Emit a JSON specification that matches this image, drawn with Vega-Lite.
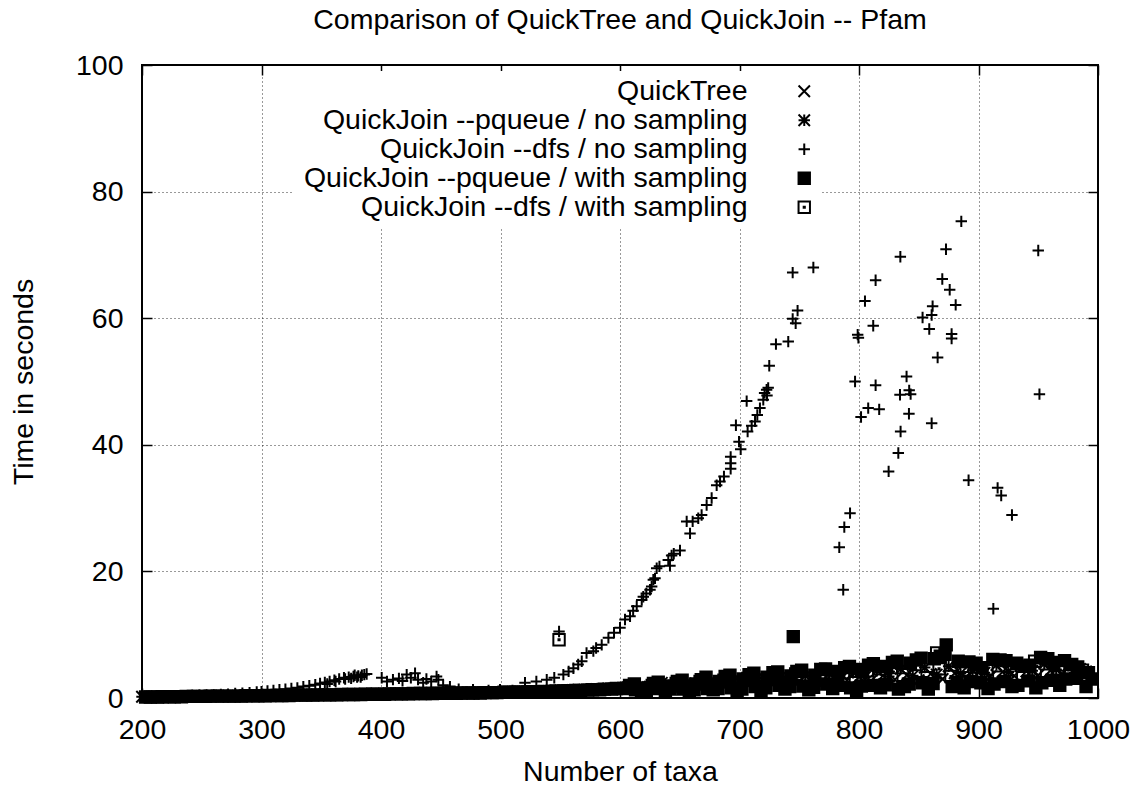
{
"$schema":"https://vega.github.io/schema/vega-lite/v6.json",
"width":956,"height":633,
"autosize":{"type":"none"},
"padding":{"left":142,"top":65,"right":47,"bottom":89},
"title":{"text":"Comparison of QuickTree and QuickJoin -- Pfam","anchor":"middle","frame":"group","baseline":"alphabetic","offset":-6,"font":"Liberation Sans","fontSize":28.5,"fontWeight":"normal","color":"black"},
"data":{"values":[
{"k":"a","x":200,"y":0.2},{"k":"a","x":210,"y":0.2},{"k":"a","x":220,"y":0.2},{"k":"a","x":230,"y":0.25},{"k":"a","x":240,"y":0.25},{"k":"a","x":250,"y":0.3},{"k":"a","x":260,"y":0.3},{"k":"a","x":270,"y":0.3},{"k":"a","x":280,"y":0.35},{"k":"a","x":290,"y":0.35},{"k":"a","x":300,"y":0.4},{"k":"a","x":310,"y":0.4},{"k":"a","x":320,"y":0.45},{"k":"a","x":330,"y":0.45},{"k":"a","x":340,"y":0.5},{"k":"a","x":350,"y":0.5},{"k":"a","x":360,"y":0.55},{"k":"a","x":370,"y":0.55},{"k":"a","x":380,"y":0.6},{"k":"a","x":390,"y":0.6},{"k":"a","x":400,"y":0.65},{"k":"a","x":410,"y":0.65},{"k":"a","x":420,"y":0.7},{"k":"a","x":430,"y":0.7},{"k":"a","x":440,"y":0.75},{"k":"a","x":450,"y":0.75},{"k":"a","x":460,"y":0.8},{"k":"a","x":470,"y":0.8},{"k":"a","x":480,"y":0.85},{"k":"a","x":490,"y":0.85},{"k":"a","x":500,"y":0.9},{"k":"a","x":510,"y":0.95},{"k":"a","x":520,"y":1.0},{"k":"a","x":530,"y":1.05},{"k":"a","x":540,"y":1.1},{"k":"a","x":550,"y":1.2},{"k":"a","x":560,"y":1.25},{"k":"a","x":570,"y":1.3},{"k":"a","x":580,"y":1.4},{"k":"a","x":590,"y":1.5},{"k":"a","x":600,"y":1.55},{"k":"a","x":610,"y":1.6},{"k":"a","x":620,"y":1.7},{"k":"a","x":630,"y":1.8},{"k":"a","x":640,"y":1.9},{"k":"a","x":650,"y":2.0},{"k":"a","x":660,"y":2.1},{"k":"a","x":670,"y":2.0},{"k":"a","x":680,"y":2.3},{"k":"a","x":690,"y":2.2},{"k":"a","x":700,"y":2.5},{"k":"a","x":710,"y":2.4},{"k":"a","x":720,"y":2.7},{"k":"a","x":730,"y":2.5},{"k":"a","x":740,"y":2.9},{"k":"a","x":750,"y":2.6},{"k":"a","x":760,"y":3.1},{"k":"a","x":770,"y":2.4},{"k":"a","x":780,"y":3.2},{"k":"a","x":790,"y":2.8},{"k":"a","x":800,"y":3.3},{"k":"a","x":810,"y":2.7},{"k":"a","x":820,"y":3.5},{"k":"a","x":830,"y":2.9},{"k":"a","x":840,"y":3.6},{"k":"a","x":850,"y":2.8},{"k":"a","x":860,"y":3.8},{"k":"a","x":870,"y":3.0},{"k":"a","x":880,"y":3.9},{"k":"a","x":890,"y":3.2},{"k":"a","x":900,"y":4.0},{"k":"a","x":910,"y":3.4},{"k":"a","x":920,"y":4.1},{"k":"a","x":930,"y":3.5},{"k":"a","x":940,"y":4.2},{"k":"a","x":950,"y":3.6},{"k":"a","x":960,"y":4.3},{"k":"a","x":970,"y":3.8},{"k":"a","x":980,"y":4.5},{"k":"a","x":990,"y":4.2},
{"k":"b","x":205,"y":0.2},{"k":"b","x":215,"y":0.2},{"k":"b","x":225,"y":0.25},{"k":"b","x":235,"y":0.25},{"k":"b","x":245,"y":0.3},{"k":"b","x":255,"y":0.3},{"k":"b","x":265,"y":0.3},{"k":"b","x":275,"y":0.35},{"k":"b","x":285,"y":0.35},{"k":"b","x":295,"y":0.4},{"k":"b","x":305,"y":0.4},{"k":"b","x":315,"y":0.45},{"k":"b","x":325,"y":0.45},{"k":"b","x":335,"y":0.5},{"k":"b","x":345,"y":0.5},{"k":"b","x":355,"y":0.55},{"k":"b","x":365,"y":0.55},{"k":"b","x":375,"y":0.6},{"k":"b","x":385,"y":0.6},{"k":"b","x":395,"y":0.65},{"k":"b","x":405,"y":0.65},{"k":"b","x":415,"y":0.7},{"k":"b","x":425,"y":0.7},{"k":"b","x":435,"y":0.75},{"k":"b","x":445,"y":0.75},{"k":"b","x":455,"y":0.8},{"k":"b","x":465,"y":0.8},{"k":"b","x":475,"y":0.85},{"k":"b","x":485,"y":0.9},{"k":"b","x":495,"y":0.9},{"k":"b","x":505,"y":0.95},{"k":"b","x":515,"y":1.0},{"k":"b","x":525,"y":1.05},{"k":"b","x":535,"y":1.1},{"k":"b","x":545,"y":1.15},{"k":"b","x":555,"y":1.2},{"k":"b","x":565,"y":1.3},{"k":"b","x":575,"y":1.35},{"k":"b","x":585,"y":1.45},{"k":"b","x":595,"y":1.5},{"k":"b","x":605,"y":1.6},{"k":"b","x":615,"y":1.7},{"k":"b","x":625,"y":1.8},{"k":"b","x":635,"y":2.4},{"k":"b","x":645,"y":1.9},{"k":"b","x":655,"y":2.3},{"k":"b","x":665,"y":2.1},{"k":"b","x":675,"y":2.6},{"k":"b","x":685,"y":2.3},{"k":"b","x":695,"y":2.9},{"k":"b","x":705,"y":2.6},{"k":"b","x":715,"y":3.2},{"k":"b","x":725,"y":2.7},{"k":"b","x":735,"y":3.4},{"k":"b","x":745,"y":2.9},{"k":"b","x":755,"y":3.5},{"k":"b","x":765,"y":3.0},{"k":"b","x":775,"y":3.8},{"k":"b","x":785,"y":3.1},{"k":"b","x":795,"y":4.0},{"k":"b","x":805,"y":3.3},{"k":"b","x":815,"y":4.3},{"k":"b","x":825,"y":3.4},{"k":"b","x":835,"y":4.6},{"k":"b","x":845,"y":3.5},{"k":"b","x":855,"y":4.8},{"k":"b","x":865,"y":3.7},{"k":"b","x":875,"y":5.0},{"k":"b","x":885,"y":3.9},{"k":"b","x":895,"y":4.4},{"k":"b","x":905,"y":4.0},{"k":"b","x":915,"y":5.2},{"k":"b","x":925,"y":4.1},{"k":"b","x":935,"y":5.0},{"k":"b","x":945,"y":4.3},{"k":"b","x":955,"y":5.4},{"k":"b","x":965,"y":4.5},{"k":"b","x":975,"y":5.1},{"k":"b","x":985,"y":4.6},
{"k":"d","x":203,"y":0.15},{"k":"d","x":213,"y":0.15},{"k":"d","x":223,"y":0.2},{"k":"d","x":233,"y":0.2},{"k":"d","x":243,"y":0.25},{"k":"d","x":253,"y":0.25},{"k":"d","x":263,"y":0.3},{"k":"d","x":273,"y":0.3},{"k":"d","x":283,"y":0.3},{"k":"d","x":293,"y":0.35},{"k":"d","x":303,"y":0.35},{"k":"d","x":313,"y":0.4},{"k":"d","x":323,"y":0.4},{"k":"d","x":333,"y":0.45},{"k":"d","x":343,"y":0.45},{"k":"d","x":353,"y":0.5},{"k":"d","x":363,"y":0.5},{"k":"d","x":373,"y":0.55},{"k":"d","x":383,"y":0.55},{"k":"d","x":393,"y":0.6},{"k":"d","x":403,"y":0.6},{"k":"d","x":413,"y":0.65},{"k":"d","x":423,"y":0.65},{"k":"d","x":433,"y":0.7},{"k":"d","x":443,"y":0.7},{"k":"d","x":453,"y":0.75},{"k":"d","x":463,"y":0.75},{"k":"d","x":473,"y":0.8},{"k":"d","x":483,"y":0.8},{"k":"d","x":493,"y":0.85},{"k":"d","x":503,"y":0.9},{"k":"d","x":513,"y":0.9},{"k":"d","x":523,"y":0.95},{"k":"d","x":533,"y":1.0},{"k":"d","x":543,"y":1.05},{"k":"d","x":553,"y":1.1},{"k":"d","x":563,"y":1.2},{"k":"d","x":573,"y":1.25},{"k":"d","x":583,"y":1.3},{"k":"d","x":593,"y":1.4},{"k":"d","x":603,"y":1.5},{"k":"d","x":613,"y":1.3},{"k":"d","x":623,"y":1.6},{"k":"d","x":633,"y":1.5},{"k":"d","x":643,"y":1.9},{"k":"d","x":653,"y":1.4},{"k":"d","x":663,"y":2.2},{"k":"d","x":673,"y":1.5},{"k":"d","x":683,"y":2.6},{"k":"d","x":693,"y":1.6},{"k":"d","x":703,"y":3.0},{"k":"d","x":713,"y":1.8},{"k":"d","x":723,"y":3.3},{"k":"d","x":733,"y":2.0},{"k":"d","x":743,"y":3.5},{"k":"d","x":745,"y":9.7},{"k":"d","x":753,"y":1.9},{"k":"d","x":763,"y":3.6},{"k":"d","x":773,"y":2.2},{"k":"d","x":783,"y":4.2},{"k":"d","x":793,"y":1.6},{"k":"d","x":803,"y":4.5},{"k":"d","x":813,"y":2.0},{"k":"d","x":823,"y":5.0},{"k":"d","x":833,"y":1.4},{"k":"d","x":843,"y":5.5},{"k":"d","x":853,"y":2.4},{"k":"d","x":863,"y":6.2},{"k":"d","x":873,"y":8.4},{"k":"d","x":878,"y":1.8},{"k":"d","x":883,"y":5.8},{"k":"d","x":893,"y":2.6},{"k":"d","x":903,"y":4.8},{"k":"d","x":913,"y":2.2},{"k":"d","x":923,"y":5.9},{"k":"d","x":933,"y":2.0},{"k":"d","x":943,"y":5.2},{"k":"d","x":953,"y":2.4},{"k":"d","x":963,"y":5.6},{"k":"d","x":973,"y":3.0},{"k":"d","x":983,"y":4.9},{"k":"d","x":990,"y":1.8},
{"k":"d","x":608,"y":2.0},{"k":"d","x":618,"y":1.1},{"k":"d","x":628,"y":2.3},{"k":"d","x":638,"y":1.2},{"k":"d","x":648,"y":2.6},{"k":"d","x":658,"y":1.0},{"k":"d","x":668,"y":2.9},{"k":"d","x":678,"y":1.3},{"k":"d","x":688,"y":3.4},{"k":"d","x":698,"y":1.2},{"k":"d","x":708,"y":3.7},{"k":"d","x":718,"y":1.1},{"k":"d","x":728,"y":4.0},{"k":"d","x":738,"y":1.4},{"k":"d","x":748,"y":4.2},{"k":"d","x":758,"y":1.3},{"k":"d","x":768,"y":4.5},{"k":"d","x":778,"y":1.5},{"k":"d","x":788,"y":4.8},{"k":"d","x":798,"y":1.2},{"k":"d","x":808,"y":5.2},{"k":"d","x":818,"y":1.6},{"k":"d","x":828,"y":5.6},{"k":"d","x":838,"y":1.8},{"k":"d","x":848,"y":6.0},{"k":"d","x":858,"y":1.4},{"k":"d","x":868,"y":6.6},{"k":"d","x":888,"y":1.6},{"k":"d","x":898,"y":5.5},{"k":"d","x":908,"y":1.5},{"k":"d","x":918,"y":6.0},{"k":"d","x":928,"y":1.8},{"k":"d","x":938,"y":5.0},{"k":"d","x":948,"y":1.6},{"k":"d","x":958,"y":6.2},{"k":"d","x":968,"y":2.0},{"k":"d","x":978,"y":5.3},{"k":"d","x":995,"y":3.0},
{"k":"d","x":612,"y":2.2},{"k":"d","x":622,"y":1.2},{"k":"d","x":632,"y":2.5},{"k":"d","x":642,"y":1.4},{"k":"d","x":652,"y":2.8},{"k":"d","x":662,"y":1.3},{"k":"d","x":672,"y":3.3},{"k":"d","x":682,"y":1.5},{"k":"d","x":692,"y":3.6},{"k":"d","x":702,"y":1.4},{"k":"d","x":712,"y":3.9},{"k":"d","x":722,"y":1.6},{"k":"d","x":732,"y":4.1},{"k":"d","x":742,"y":1.8},{"k":"d","x":752,"y":4.4},{"k":"d","x":762,"y":1.7},{"k":"d","x":772,"y":4.6},{"k":"d","x":782,"y":2.0},{"k":"d","x":792,"y":5.0},{"k":"d","x":802,"y":1.9},{"k":"d","x":812,"y":5.4},{"k":"d","x":822,"y":2.1},{"k":"d","x":832,"y":5.8},{"k":"d","x":842,"y":2.2},{"k":"d","x":852,"y":6.3},{"k":"d","x":862,"y":2.3},{"k":"d","x":872,"y":6.9},{"k":"d","x":882,"y":2.5},{"k":"d","x":892,"y":5.7},{"k":"d","x":902,"y":2.4},{"k":"d","x":912,"y":6.1},{"k":"d","x":922,"y":2.6},{"k":"d","x":932,"y":5.5},{"k":"d","x":942,"y":2.7},{"k":"d","x":952,"y":6.4},{"k":"d","x":962,"y":2.8},{"k":"d","x":972,"y":5.9},{"k":"d","x":982,"y":3.1},{"k":"d","x":992,"y":4.0},
{"k":"e","x":207,"y":0.15},{"k":"e","x":217,"y":0.2},{"k":"e","x":227,"y":0.2},{"k":"e","x":237,"y":0.25},{"k":"e","x":247,"y":0.25},{"k":"e","x":257,"y":0.3},{"k":"e","x":267,"y":0.3},{"k":"e","x":277,"y":0.3},{"k":"e","x":287,"y":0.35},{"k":"e","x":297,"y":0.35},{"k":"e","x":307,"y":0.4},{"k":"e","x":317,"y":0.4},{"k":"e","x":327,"y":0.45},{"k":"e","x":337,"y":0.45},{"k":"e","x":347,"y":0.5},{"k":"e","x":357,"y":0.5},{"k":"e","x":367,"y":0.55},{"k":"e","x":377,"y":0.55},{"k":"e","x":387,"y":0.6},{"k":"e","x":397,"y":0.6},{"k":"e","x":407,"y":0.65},{"k":"e","x":417,"y":0.65},{"k":"e","x":427,"y":0.7},{"k":"e","x":437,"y":0.7},{"k":"e","x":447,"y":0.75},{"k":"e","x":457,"y":0.75},{"k":"e","x":467,"y":0.8},{"k":"e","x":477,"y":0.8},{"k":"e","x":487,"y":0.85},{"k":"e","x":497,"y":0.85},{"k":"e","x":507,"y":0.9},{"k":"e","x":517,"y":0.95},{"k":"e","x":527,"y":1.0},{"k":"e","x":537,"y":1.05},{"k":"e","x":549,"y":9.2},{"k":"e","x":547,"y":1.1},{"k":"e","x":557,"y":1.15},{"k":"e","x":567,"y":1.2},{"k":"e","x":577,"y":1.3},{"k":"e","x":587,"y":1.4},{"k":"e","x":597,"y":1.5},{"k":"e","x":607,"y":1.6},{"k":"e","x":617,"y":1.4},{"k":"e","x":627,"y":2.0},{"k":"e","x":637,"y":1.7},{"k":"e","x":647,"y":2.3},{"k":"e","x":657,"y":1.8},{"k":"e","x":667,"y":2.6},{"k":"e","x":677,"y":2.0},{"k":"e","x":687,"y":2.8},{"k":"e","x":697,"y":2.1},{"k":"e","x":707,"y":3.1},{"k":"e","x":717,"y":2.3},{"k":"e","x":727,"y":3.2},{"k":"e","x":737,"y":2.2},{"k":"e","x":747,"y":3.8},{"k":"e","x":757,"y":2.5},{"k":"e","x":767,"y":3.4},{"k":"e","x":777,"y":2.6},{"k":"e","x":787,"y":4.0},{"k":"e","x":797,"y":2.4},{"k":"e","x":807,"y":4.3},{"k":"e","x":817,"y":2.8},{"k":"e","x":827,"y":4.8},{"k":"e","x":837,"y":3.0},{"k":"e","x":847,"y":5.3},{"k":"e","x":857,"y":3.2},{"k":"e","x":865,"y":7.1},{"k":"e","x":867,"y":4.6},{"k":"e","x":877,"y":3.4},{"k":"e","x":887,"y":5.0},{"k":"e","x":897,"y":3.1},{"k":"e","x":907,"y":4.6},{"k":"e","x":917,"y":3.3},{"k":"e","x":927,"y":5.4},{"k":"e","x":937,"y":3.2},{"k":"e","x":947,"y":5.8},{"k":"e","x":957,"y":3.6},{"k":"e","x":967,"y":5.2},{"k":"e","x":977,"y":3.9},{"k":"e","x":987,"y":4.4},
{"k":"c","x":200,"y":0.2},{"k":"c","x":206,"y":0.25},{"k":"c","x":212,"y":0.25},{"k":"c","x":218,"y":0.3},{"k":"c","x":224,"y":0.3},{"k":"c","x":230,"y":0.35},{"k":"c","x":236,"y":0.35},{"k":"c","x":242,"y":0.4},{"k":"c","x":248,"y":0.45},{"k":"c","x":254,"y":0.5},{"k":"c","x":260,"y":0.5},{"k":"c","x":266,"y":0.55},{"k":"c","x":272,"y":0.6},{"k":"c","x":278,"y":0.7},{"k":"c","x":284,"y":0.75},{"k":"c","x":290,"y":0.85},{"k":"c","x":296,"y":0.95},{"k":"c","x":300,"y":1.0},{"k":"c","x":305,"y":1.1},{"k":"c","x":310,"y":1.2},{"k":"c","x":315,"y":1.3},{"k":"c","x":320,"y":1.4},{"k":"c","x":325,"y":1.5},{"k":"c","x":330,"y":1.6},{"k":"c","x":335,"y":1.8},{"k":"c","x":340,"y":1.95},{"k":"c","x":345,"y":2.1},{"k":"c","x":349,"y":2.3},{"k":"c","x":353,"y":2.45},{"k":"c","x":357,"y":2.6},{"k":"c","x":361,"y":2.8},{"k":"c","x":365,"y":3.0},{"k":"c","x":369,"y":3.2},{"k":"c","x":373,"y":3.3},{"k":"c","x":377,"y":3.4},{"k":"c","x":381,"y":3.5},{"k":"c","x":384,"y":3.6},{"k":"c","x":386,"y":3.7},{"k":"c","x":388,"y":3.8},{"k":"c","x":355,"y":2.2},{"k":"c","x":362,"y":2.6},{"k":"c","x":370,"y":3.0},{"k":"c","x":378,"y":3.6},{"k":"c","x":383,"y":3.3},{"k":"c","x":375,"y":3.1},{"k":"c","x":380,"y":3.3},
{"k":"c","x":400.6,"y":3.2},{"k":"c","x":405,"y":2.6},{"k":"c","x":410,"y":2.9},{"k":"c","x":415,"y":3.1},{"k":"c","x":418,"y":2.7},{"k":"c","x":421.5,"y":3.7},{"k":"c","x":425,"y":3.2},{"k":"c","x":428.5,"y":3.9},{"k":"c","x":431,"y":2.9},{"k":"c","x":435.3,"y":2.4},{"k":"c","x":438,"y":3.0},{"k":"c","x":442,"y":2.6},{"k":"c","x":446.5,"y":3.4},{"k":"c","x":448,"y":2.9},{"k":"c","x":452,"y":2.0},{"k":"c","x":457.7,"y":1.8},{"k":"c","x":465,"y":1.4},{"k":"c","x":477,"y":1.3},{"k":"c","x":490,"y":1.2},{"k":"c","x":499.6,"y":1.3},{"k":"c","x":510,"y":1.2},{"k":"c","x":520.5,"y":2.4},
{"k":"c","x":530,"y":2.6},{"k":"c","x":538.7,"y":2.9},{"k":"c","x":545,"y":3.2},{"k":"c","x":549,"y":10.5},{"k":"c","x":552.6,"y":3.7},{"k":"c","x":557,"y":4.2},{"k":"c","x":561,"y":4.7},{"k":"c","x":565,"y":5.3},{"k":"c","x":568,"y":5.8},{"k":"c","x":572,"y":7.1},{"k":"c","x":577.7,"y":7.4},{"k":"c","x":580,"y":7.9},{"k":"c","x":584.7,"y":8.4},{"k":"c","x":590.3,"y":9.5},{"k":"c","x":595,"y":10.3},{"k":"c","x":600,"y":11.1},{"k":"c","x":604.2,"y":12.4},{"k":"c","x":608.4,"y":12.9},{"k":"c","x":611,"y":13.8},{"k":"c","x":614,"y":14.5},{"k":"c","x":618.2,"y":15.5},{"k":"c","x":619.5,"y":16.0},{"k":"c","x":622,"y":16.5},{"k":"c","x":625.1,"y":17.1},{"k":"c","x":626.5,"y":17.6},{"k":"c","x":627.9,"y":18.7},{"k":"c","x":629.3,"y":18.9},{"k":"c","x":630.7,"y":20.5},{"k":"c","x":633,"y":20.8},{"k":"c","x":640.4,"y":21.8},{"k":"c","x":641.8,"y":20.9},{"k":"c","x":643.2,"y":22.5},{"k":"c","x":645,"y":22.8},{"k":"c","x":650.2,"y":23.3},{"k":"c","x":655.8,"y":27.9},{"k":"c","x":658.6,"y":26.0},{"k":"c","x":660.8,"y":27.9},{"k":"c","x":665.5,"y":28.4},{"k":"c","x":668.3,"y":28.9},{"k":"c","x":672.5,"y":30.5},{"k":"c","x":676.7,"y":31.6},{"k":"c","x":680.9,"y":33.6},{"k":"c","x":683.7,"y":34.2},{"k":"c","x":687,"y":35.0},{"k":"c","x":692.6,"y":36.2},{"k":"c","x":692.6,"y":37.1},{"k":"c","x":692.6,"y":38.1},{"k":"c","x":697,"y":43.1},{"k":"c","x":699.6,"y":40.5},{"k":"c","x":701,"y":39.3},{"k":"c","x":706,"y":46.9},{"k":"c","x":706.8,"y":42.1},{"k":"c","x":710.2,"y":43.0},{"k":"c","x":713,"y":43.7},{"k":"c","x":714.9,"y":44.7},{"k":"c","x":717.1,"y":45.8},{"k":"c","x":719.9,"y":47.1},{"k":"c","x":722.7,"y":48.7},{"k":"c","x":721,"y":48.2},{"k":"c","x":724,"y":49.0},{"k":"c","x":723,"y":47.8},{"k":"c","x":724.9,"y":52.5},{"k":"c","x":730.5,"y":55.9},{"k":"c","x":740.8,"y":56.3},{"k":"c","x":744.5,"y":59.9},{"k":"c","x":747,"y":59.2},{"k":"c","x":748.6,"y":61.2},{"k":"c","x":744.5,"y":67.2},{"k":"c","x":761.8,"y":68.0},
{"k":"c","x":783.5,"y":23.8},{"k":"c","x":787.7,"y":27.0},{"k":"c","x":792.5,"y":29.2},{"k":"c","x":786.8,"y":17.1},{"k":"c","x":796.7,"y":50.0},{"k":"c","x":798.9,"y":57.4},{"k":"c","x":799.5,"y":56.9},{"k":"c","x":801.7,"y":44.4},{"k":"c","x":805,"y":62.7},{"k":"c","x":807.7,"y":45.8},{"k":"c","x":811.9,"y":58.8},{"k":"c","x":813.9,"y":66.0},{"k":"c","x":813.9,"y":49.4},{"k":"c","x":816.9,"y":45.6},{"k":"c","x":824.8,"y":35.8},{"k":"c","x":832.9,"y":38.7},{"k":"c","x":834.8,"y":42.1},{"k":"c","x":834.3,"y":47.9},{"k":"c","x":834.6,"y":69.7},{"k":"c","x":839.8,"y":50.8},{"k":"c","x":842,"y":48.6},{"k":"c","x":843.2,"y":48.0},{"k":"c","x":841.8,"y":44.9},{"k":"c","x":853.2,"y":60.1},{"k":"c","x":858.8,"y":58.3},{"k":"c","x":860.8,"y":60.5},{"k":"c","x":861.6,"y":61.9},{"k":"c","x":860.8,"y":43.4},{"k":"c","x":865.8,"y":53.8},{"k":"c","x":869.7,"y":66.2},{"k":"c","x":872.8,"y":70.9},{"k":"c","x":875.9,"y":64.5},{"k":"c","x":877.5,"y":57.5},{"k":"c","x":877.5,"y":56.8},{"k":"c","x":880.9,"y":62.1},{"k":"c","x":885.6,"y":75.3},{"k":"c","x":891.7,"y":34.4},{"k":"c","x":912.4,"y":14.1},{"k":"c","x":916,"y":33.2},{"k":"c","x":919,"y":32.0},{"k":"c","x":928,"y":28.9},{"k":"c","x":950,"y":70.7},{"k":"c","x":951,"y":48.0}
]},
"transform":[{"lookup":"k","from":{"data":{"values":[{"k":"a","name":"QuickTree"},{"k":"b","name":"QuickJoin --pqueue / no sampling"},{"k":"c","name":"QuickJoin --dfs / no sampling"},{"k":"d","name":"QuickJoin --pqueue / with sampling"},{"k":"e","name":"QuickJoin --dfs / with sampling"}]},"key":"k","fields":["name"]}}],
"layer":[
{"mark":{"type":"point","filled":false,"color":"black","stroke":"black","strokeWidth":2,"size":130,"opacity":1},
 "encoding":{
  "x":{"field":"x","type":"quantitative","scale":{"domain":[200,1000],"nice":false,"zero":false},
       "axis":{"orient":"bottom","values":[200,300,400,500,600,700,800,900,1000],"format":"d","title":"Number of taxa","grid":true,"labelPadding":27,"titlePadding":14,"labelFlush":false,"labelOverlap":false}},
  "y":{"field":"y","type":"quantitative","scale":{"domain":[0,100],"nice":false,"zero":false},
       "axis":{"orient":"left","values":[0,20,40,60,80,100],"format":"d","title":"Time in seconds","grid":true,"labelPadding":29,"titlePadding":37,"labelFlush":false,"labelOverlap":false}},
  "shape":{"field":"name","type":"nominal","title":null,
    "scale":{"domain":["QuickTree","QuickJoin --pqueue / no sampling","QuickJoin --dfs / no sampling","QuickJoin --pqueue / with sampling","QuickJoin --dfs / with sampling"],
             "range":["M-1,-1L1,1M-1,1L1,-1","M-1,-1L1,1M-1,1L1,-1M-1,0L1,0M0,-1L0,1","M-1,0L1,0M0,-1L0,1","M-1,-1L1,-1L1,1L-1,1Z M-0.7,-0.7L0.7,-0.7L0.7,0.7L-0.7,0.7Z M-0.4,-0.4L0.4,-0.4L0.4,0.4L-0.4,0.4Z M-0.1,-0.1L0.1,-0.1L0.1,0.1L-0.1,0.1Z","M-1,-1L1,-1L1,1L-1,1Z M-0.1,-0.1L0.1,-0.1L0.1,0.1L-0.1,0.1Z"]},
    "legend":{"encode":{"symbols":{"update":{"stroke":{"value":"black"},"strokeWidth":{"value":2},"fill":{"value":"transparent"}}}}}}
 }},
{"mark":{"type":"point","opacity":0},
 "encoding":{
  "x":{"field":"x","type":"quantitative","scale":{"domain":[200,1000],"nice":false,"zero":false},
       "axis":{"orient":"top","values":[200,300,400,500,600,700,800,900,1000],"labels":false,"grid":false,"title":null}},
  "y":{"field":"y","type":"quantitative","scale":{"domain":[0,100],"nice":false,"zero":false},
       "axis":{"orient":"right","values":[0,20,40,60,80,100],"labels":false,"grid":false,"title":null}}
 }}
],
"resolve":{"axis":{"x":"independent","y":"independent"}},
"config":{
 "background":"white",
 "view":{"stroke":"black","strokeWidth":2},
 "axis":{"domain":false,"ticks":true,"tickColor":"black","tickWidth":1.5,"tickSize":-10,
   "labelFont":"Liberation Sans","labelFontSize":28.5,"labelColor":"black",
   "titleFont":"Liberation Sans","titleFontSize":28.5,"titleFontWeight":"normal","titleColor":"black",
   "gridColor":"black","gridDash":[1,3],"gridWidth":1,"gridOpacity":0.8},
 "legend":{"orient":"none","legendX":150,"legendY":6,"direction":"vertical",
   "labelFont":"Liberation Sans","labelFontSize":28.5,"labelColor":"black","labelAlign":"right","labelOffset":-71,"symbolOffset":492,"labelLimit":1000,
   "symbolSize":130,"symbolStrokeWidth":2,"symbolStrokeColor":"black","rowPadding":0,"fillColor":"white","padding":6}
}
}
